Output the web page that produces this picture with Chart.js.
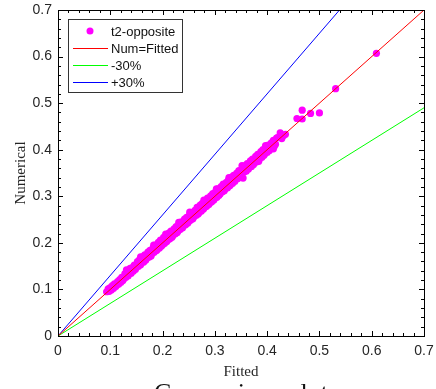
<!DOCTYPE html>
<html>
<head>
<meta charset="utf-8">
<script src="https://cdn.jsdelivr.net/npm/chart.js@4.4.0/dist/chart.umd.min.js"></script>
<style>
  html, body { margin: 0; padding: 0; background: #fff; overflow: hidden; }
  #chartBox { width: 436px; height: 389px; }
</style>
</head>
<body>
<div id="chartBox"><canvas id="compareChart" width="436" height="389"></canvas></div>
<script>
// scatter values (fitted -> x, numerical -> y)
const fittedVals = [
  0.093, 0.096, 0.098, 0.100, 0.102, 0.104, 0.106, 0.108, 0.110, 0.112,
  0.114, 0.116, 0.118, 0.120, 0.122, 0.124, 0.126, 0.128, 0.130, 0.132,
  0.134, 0.136, 0.138, 0.140, 0.142, 0.144, 0.146, 0.148, 0.150, 0.152,
  0.154, 0.156, 0.158, 0.160, 0.162, 0.164, 0.166, 0.168, 0.170, 0.172,
  0.174, 0.176, 0.178, 0.180, 0.182, 0.184, 0.186, 0.188, 0.190, 0.192,
  0.194, 0.196, 0.198, 0.200, 0.202, 0.204, 0.206, 0.208, 0.210, 0.212,
  0.214, 0.216, 0.218, 0.220, 0.222, 0.224, 0.226, 0.228, 0.230, 0.232,
  0.234, 0.236, 0.238, 0.240, 0.242, 0.244, 0.246, 0.248, 0.250, 0.252,
  0.254, 0.256, 0.258, 0.260, 0.262, 0.264, 0.266, 0.268, 0.270, 0.272,
  0.274, 0.276, 0.278, 0.280, 0.282, 0.284, 0.286, 0.288, 0.290, 0.292,
  0.294, 0.296, 0.298, 0.300, 0.302, 0.304, 0.306, 0.308, 0.310, 0.312,
  0.314, 0.316, 0.318, 0.320, 0.322, 0.324, 0.326, 0.328, 0.330, 0.332,
  0.334, 0.336, 0.338, 0.340, 0.342, 0.344, 0.346, 0.348, 0.350, 0.352,
  0.354, 0.356, 0.358, 0.360, 0.362, 0.364, 0.366, 0.368, 0.370, 0.372,
  0.374, 0.376, 0.378, 0.380, 0.382, 0.384, 0.386, 0.388, 0.390, 0.392,
  0.394, 0.396, 0.398, 0.400, 0.402, 0.404, 0.406, 0.408, 0.410, 0.412,
  0.414, 0.416, 0.418, 0.420, 0.425, 0.428, 0.431, 0.435,
  0.131, 0.158, 0.183, 0.206, 0.231, 0.252, 0.279, 0.303, 0.327, 0.352,
  0.384, 0.397, 0.412,
  0.457, 0.467, 0.467, 0.483, 0.500, 0.531, 0.609
];
const numericalVals = [
  0.095, 0.101, 0.096, 0.104, 0.099, 0.108, 0.102, 0.112, 0.106, 0.109,
  0.117, 0.111, 0.121, 0.115, 0.126, 0.119, 0.123, 0.134, 0.126, 0.137,
  0.129, 0.133, 0.145, 0.135, 0.147, 0.139, 0.152, 0.143, 0.147, 0.160,
  0.150, 0.164, 0.153, 0.157, 0.170, 0.159, 0.174, 0.163, 0.168, 0.180,
  0.169, 0.184, 0.172, 0.177, 0.190, 0.180, 0.195, 0.183, 0.186, 0.201,
  0.189, 0.206, 0.193, 0.196, 0.212, 0.199, 0.215, 0.203, 0.206, 0.221,
  0.209, 0.225, 0.212, 0.216, 0.230, 0.219, 0.235, 0.222, 0.226, 0.241,
  0.229, 0.245, 0.232, 0.236, 0.251, 0.239, 0.255, 0.242, 0.246, 0.262,
  0.249, 0.265, 0.252, 0.256, 0.270, 0.259, 0.276, 0.262, 0.265, 0.281,
  0.268, 0.285, 0.272, 0.276, 0.291, 0.278, 0.296, 0.282, 0.285, 0.301,
  0.288, 0.306, 0.292, 0.296, 0.311, 0.298, 0.316, 0.302, 0.305, 0.321,
  0.309, 0.326, 0.312, 0.316, 0.330, 0.318, 0.335, 0.322, 0.325, 0.341,
  0.328, 0.345, 0.332, 0.336, 0.350, 0.338, 0.355, 0.342, 0.346, 0.360,
  0.339, 0.352, 0.366, 0.354, 0.370, 0.358, 0.362, 0.376, 0.364, 0.380,
  0.368, 0.372, 0.386, 0.374, 0.390, 0.378, 0.382, 0.396, 0.384, 0.400,
  0.388, 0.392, 0.406, 0.394, 0.410, 0.398, 0.402, 0.415, 0.404, 0.420,
  0.408, 0.412, 0.425, 0.426, 0.436, 0.424, 0.430, 0.433,
  0.142, 0.170, 0.195, 0.219, 0.244, 0.266, 0.292, 0.316, 0.340, 0.366,
  0.375, 0.409, 0.402,
  0.467, 0.466, 0.485, 0.478, 0.479, 0.531, 0.607
];

// reference lines
const refX = [0, 0.7];
const equalY = [0, 0.7];
const minus30Y = [0, 0.49];
const plus30Y = [0, 0.91];

const seriesLabels = ['t2-opposite', 'Num=Fitted', '-30%', '+30%'];
const tickLabels = ['0', '0.1', '0.2', '0.3', '0.4', '0.5', '0.6', '0.7'];
const plotTitle = 'Comparison plot';

function toPoints(xs, ys) {
  return xs.map((x, i) => ({ x: x, y: ys[i] }));
}

// box, inward ticks, legend and cut-off title drawn after the datasets
const framePlugin = {
  id: 'frame',
  afterDatasetsDraw(chart) {
    const ctx = chart.ctx;
    const area = chart.chartArea;
    const xs = chart.scales.x;
    const ys = chart.scales.y;
    ctx.save();
    ctx.strokeStyle = '#000';
    ctx.lineWidth = 1;
    ctx.strokeRect(Math.round(area.left) + 0.5, Math.round(area.top) + 0.5,
      Math.round(area.right - area.left), Math.round(area.bottom - area.top));

    ctx.beginPath();
    for (let k = 0; k <= 35; k++) {
      const v = k * 0.02;
      const len = (k % 5 === 0) ? 5 : 3;
      const px = Math.round(xs.getPixelForValue(v)) + 0.5;
      const py = Math.round(ys.getPixelForValue(v)) + 0.5;
      ctx.moveTo(px, area.bottom); ctx.lineTo(px, area.bottom - len);
      ctx.moveTo(px, area.top); ctx.lineTo(px, area.top + len);
      ctx.moveTo(area.left, py); ctx.lineTo(area.left + len, py);
      ctx.moveTo(area.right, py); ctx.lineTo(area.right - len, py);
    }
    ctx.stroke();

    // legend
    const lx = area.left + 10, ly = area.top + 9;
    ctx.fillStyle = '#fff';
    ctx.fillRect(lx, ly, 114, 73);
    ctx.strokeStyle = '#333';
    ctx.strokeRect(lx + 0.5, ly + 0.5, 114, 73);
    ctx.font = '13px "Liberation Sans", Arial, sans-serif';
    ctx.textBaseline = 'middle';
    chart.data.datasets.forEach((ds, i) => {
      const rowY = ly + 12 + i * 17;
      if (i === 0) {
        ctx.fillStyle = ds.backgroundColor;
        ctx.beginPath();
        ctx.arc(lx + 22, rowY, 3.5, 0, Math.PI * 2);
        ctx.fill();
      } else {
        ctx.strokeStyle = ds.borderColor;
        ctx.beginPath();
        ctx.moveTo(lx + 5, rowY + 0.5);
        ctx.lineTo(lx + 40, rowY + 0.5);
        ctx.stroke();
      }
      ctx.fillStyle = '#111';
      ctx.fillText(ds.label, lx + 43, rowY + 1);
    });

    // title below the axis, mostly outside the window
    ctx.font = '26px "Liberation Serif", "Times New Roman", serif';
    ctx.fillStyle = '#111';
    ctx.textAlign = 'center';
    ctx.textBaseline = 'alphabetic';
    ctx.fillText(plotTitle, (area.left + area.right) / 2, 401);
    ctx.restore();
  }
};

const tickFont = { family: '"Liberation Sans", Arial, sans-serif', size: 14 };
const titleFont = { family: '"Liberation Serif", "Times New Roman", serif', size: 15 };

new Chart(document.getElementById('compareChart'), {
  type: 'scatter',
  data: {
    datasets: [
      {
        label: seriesLabels[0],
        data: toPoints(fittedVals, numericalVals),
        backgroundColor: '#ff00ff',
        borderWidth: 0,
        pointRadius: 3.6,
        order: 2
      },
      {
        label: seriesLabels[1],
        data: toPoints(refX, equalY),
        showLine: true, borderColor: '#ff0000', borderWidth: 1, pointRadius: 0, order: 1
      },
      {
        label: seriesLabels[2],
        data: toPoints(refX, minus30Y),
        showLine: true, borderColor: '#00ff00', borderWidth: 1, pointRadius: 0, order: 1
      },
      {
        label: seriesLabels[3],
        data: toPoints(refX, plus30Y),
        showLine: true, borderColor: '#0000ff', borderWidth: 1, pointRadius: 0, order: 1
      }
    ]
  },
  options: {
    responsive: false,
    animation: false,
    devicePixelRatio: 1,
    layout: { padding: { top: 10, right: 12, left: 0, bottom: 0 } },
    plugins: { legend: { display: false }, tooltip: { enabled: false } },
    scales: {
      x: {
        type: 'linear', min: 0, max: 0.7,
        afterFit: (s) => { s.height = 53; s.paddingLeft = 0; s.paddingRight = 0; },
        grid: { display: false, drawTicks: false },
        border: { display: false },
        ticks: {
          stepSize: 0.1, padding: 7, color: '#262626', font: tickFont,
          maxRotation: 0, autoSkip: false,
          callback: (v, i) => tickLabels[i]
        },
        title: { display: true, text: 'Fitted', color: '#262626', font: titleFont, padding: { top: 0, bottom: 8 } }
      },
      y: {
        type: 'linear', min: 0, max: 0.7,
        afterFit: (s) => { s.width = 58; s.paddingTop = 0; s.paddingBottom = 0; },
        grid: { display: false, drawTicks: false },
        border: { display: false },
        ticks: {
          stepSize: 0.1, padding: 6, color: '#262626', font: tickFont,
          autoSkip: false,
          callback: (v, i) => tickLabels[i]
        },
        title: { display: true, text: 'Numerical', color: '#262626', font: titleFont, padding: { top: 12, bottom: 0 } }
      }
    }
  },
  plugins: [framePlugin]
});
</script>
</body>
</html>
